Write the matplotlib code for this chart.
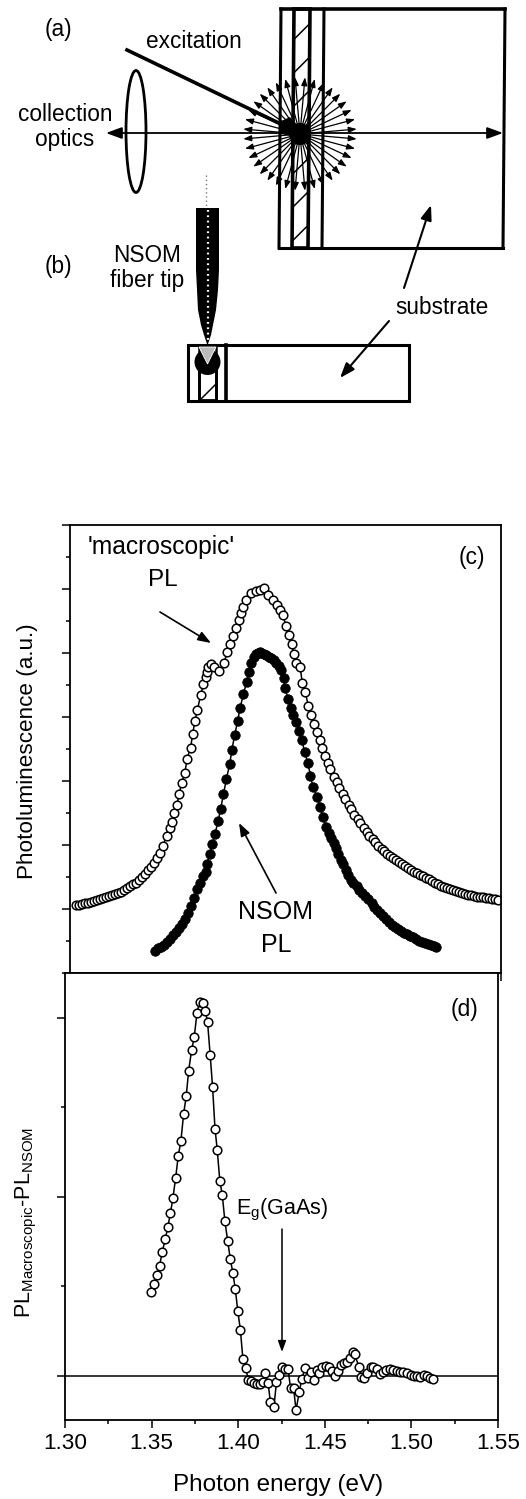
import matplotlib
matplotlib.use("Agg")
import matplotlib.pyplot as plt
import numpy as np
from matplotlib.patches import Ellipse, Polygon, Circle
from matplotlib.ticker import MultipleLocator, NullFormatter

plt.rcParams["font.family"] = ["Liberation Sans", "DejaVu Sans"]
plt.rcParams["mathtext.default"] = "regular"
plt.rcParams["hatch.linewidth"] = 1.1

W, H = 526, 1499

# panel (c), macroscopic PL
macro_x = [1.3035, 1.3052, 1.3069, 1.3087, 1.3104, 1.3122, 1.3139, 1.3156, 1.3174, 1.3191, 1.3208, 1.3226,
           1.3243, 1.3260, 1.3278, 1.3295, 1.3313, 1.3330, 1.3347, 1.3365, 1.3382, 1.3399, 1.3417, 1.3434,
           1.3451, 1.3469, 1.3486, 1.3504, 1.3521, 1.3538, 1.3560, 1.3579, 1.3591, 1.3606, 1.3620, 1.3633,
           1.3648, 1.3666, 1.3679, 1.3699, 1.3712, 1.3724, 1.3739, 1.3758, 1.3774, 1.3786, 1.3793, 1.3803,
           1.3816, 1.3835, 1.3864, 1.3893, 1.3913, 1.3928, 1.3945, 1.3961, 1.3979, 1.3992, 1.4003, 1.4023,
           1.4050, 1.4081, 1.4100, 1.4123, 1.4148, 1.4177, 1.4200, 1.4216, 1.4235, 1.4252, 1.4268, 1.4285,
           1.4299, 1.4312, 1.4335, 1.4347, 1.4365, 1.4382, 1.4397, 1.4413, 1.4430, 1.4448, 1.4463, 1.4478,
           1.4496, 1.4511, 1.4530, 1.4548, 1.4563, 1.4582, 1.4598, 1.4617, 1.4631, 1.4650, 1.4668, 1.4685,
           1.4703, 1.4720, 1.4737, 1.4755, 1.4772, 1.4789, 1.4807, 1.4824, 1.4841, 1.4859, 1.4876, 1.4893,
           1.4911, 1.4928, 1.4946, 1.4963, 1.4980, 1.4998, 1.5015, 1.5032, 1.5050, 1.5067, 1.5084, 1.5102,
           1.5119, 1.5137, 1.5154, 1.5171, 1.5189, 1.5206, 1.5223, 1.5241, 1.5258, 1.5275, 1.5293, 1.5310,
           1.5328, 1.5345, 1.5362, 1.5380, 1.5397, 1.5414, 1.5432, 1.5449, 1.5467, 1.5484]
macro_y = [.0625, .069, .078, .086, .094, .109, .125, .141, .156, .172, .188, .203,
           .219, .234, .25, .273, .297, .328, .359, .383, .406, .453, .5, .547,
           .609, .656, .719, .797, .875, .984, 1.145, 1.266, 1.364, 1.5, 1.625, 1.797,
           1.973, 2.125, 2.344, 2.516, 2.734, 2.937, 3.109, 3.344, 3.516, 3.63, 3.708, 3.781,
           3.828, 3.781, 3.723, 3.844, 4.02, 4.141, 4.266, 4.391, 4.516, 4.625, 4.723, 4.828,
           4.938, 4.969, 4.984, 5.016, 4.906, 4.828, 4.75, 4.672, 4.6, 4.427, 4.281, 4.141,
           3.992, 3.844, 3.781, 3.536, 3.391, 3.172, 3.031, 2.891, 2.766, 2.633, 2.516, 2.398,
           2.286, 2.188, 2.067, 1.984, 1.891, 1.797, 1.719, 1.625, 1.5625, 1.469, 1.40, 1.336,
           1.266, 1.203, 1.148, 1.094, 1.04, .992, .945, .906, .867, .828, .797, .766,
           .734, .703, .672, .641, .609, .583, .558, .531, .508, .484, .461, .4375,
           .414, .391, .367, .348, .328, .3125, .297, .281, .266, .25, .2375, .225,
           .214, .203, .194, .1875, .181, .175, .169, .1625, .156, .141]

# panel (c), NSOM PL
nsom_x = [1.3492, 1.3510, 1.3527, 1.3544, 1.3562, 1.3579, 1.3596, 1.3614, 1.3631, 1.3649, 1.3666, 1.3683,
          1.3701, 1.3718, 1.3735, 1.3753, 1.3770, 1.3786, 1.3795, 1.3811, 1.3826, 1.3841, 1.3859, 1.3874,
          1.3890, 1.3907, 1.3926, 1.3939, 1.3955, 1.3972, 1.3986, 1.4006, 1.4025, 1.4040, 1.4052, 1.4067,
          1.4077, 1.4090, 1.4100, 1.4110, 1.4123, 1.4139, 1.4152, 1.4168, 1.4181, 1.4197, 1.4210, 1.4222,
          1.4239, 1.4247, 1.4266, 1.4280, 1.4293, 1.4309, 1.4328, 1.4345, 1.4361, 1.4380, 1.4395, 1.4409,
          1.4432, 1.4452, 1.4467, 1.4486, 1.4500, 1.4515, 1.4529, 1.4544, 1.4557, 1.4573, 1.4586, 1.4602,
          1.4615, 1.4631, 1.4644, 1.4662, 1.4679, 1.4696, 1.4714, 1.4731, 1.4749, 1.4766, 1.4783, 1.4801,
          1.4818, 1.4835, 1.4853, 1.4870, 1.4888, 1.4905, 1.4922, 1.4940, 1.4957, 1.4974, 1.4992, 1.5009,
          1.5027, 1.5044, 1.5061, 1.5079, 1.5096, 1.5113, 1.5125]
nsom_y = [-.652, -.617, -.586, -.555, -.508, -.461, -.414, -.359, -.297, -.234, -.156, -.0625,
          .047, .172, .305, .406, .508, .583, .703, .859, 1.011, 1.172, 1.37, 1.567,
          1.792, 2.027, 2.261, 2.484, 2.719, 2.93, 3.136, 3.359, 3.552, 3.708, 3.844, 3.942,
          3.984, 4.005, 4.016, 4.005, 3.992, 3.969, 3.945, 3.917, 3.891, 3.848, 3.797, 3.734,
          3.605, 3.448, 3.281, 3.136, 3.031, 2.922, 2.786, 2.633, 2.458, 2.277, 2.078, 1.911,
          1.755, 1.598, 1.442, 1.286, 1.195, 1.105, 1.031, .948, .867, .766, .703, .609,
          .531, .453, .406, .359, .297, .25, .203, .156, .094, .039, -.016, -.0625,
          -.109, -.156, -.203, -.25, -.281, -.3125, -.344, -.375, -.398, -.422, -.445, -.469,
          -.5, -.516, -.531, -.547, -.5625, -.578, -.589]

# panel (d), difference
diff_x = [1.3496, 1.3514, 1.3531, 1.3546, 1.3561, 1.3579, 1.3594, 1.3609, 1.3623, 1.3639, 1.3654, 1.3669,
          1.3685, 1.3700, 1.3714, 1.3731, 1.3746, 1.3762, 1.3777, 1.3795, 1.3810, 1.3823, 1.3838, 1.3852,
          1.3866, 1.3879, 1.3894, 1.3908, 1.3923, 1.3939, 1.3954, 1.3969, 1.3983, 1.3998, 1.4013, 1.4027,
          1.4043, 1.4058, 1.4073, 1.4091, 1.4106, 1.4125, 1.4141, 1.4156, 1.4173, 1.4186, 1.4206, 1.4221,
          1.4236, 1.4254, 1.4271, 1.4288, 1.4302, 1.4320, 1.4334, 1.4352, 1.4367, 1.4387, 1.4402, 1.4419,
          1.4437, 1.4454, 1.4467, 1.4485, 1.4506, 1.4525, 1.4541, 1.4558, 1.4575, 1.4591, 1.4612, 1.4631,
          1.4644, 1.4660, 1.4673, 1.4696, 1.4711, 1.4727, 1.4743, 1.4764, 1.4779, 1.4799, 1.4819, 1.4837,
          1.4856, 1.4875, 1.4894, 1.4914, 1.4933, 1.4952, 1.4975, 1.4995, 1.5014, 1.5033, 1.5052, 1.5071,
          1.5090, 1.5106, 1.5127]
diff_y = [.471, .512, .566, .616, .691, .764, .834, .911, .994, 1.108, 1.231, 1.311,
          1.465, 1.564, 1.706, 1.82, 1.892, 2.028, 2.089, 2.082, 2.041, 1.978, 1.795, 1.615,
          1.382, 1.263, 1.088, 1.013, .866, .756, .655, .577, .486, .361, .254, .095,
          .047, -.022, -.028, -.042, -.046, -.045, -.032, .018, -.042, -.147, -.173, -.035,
          .006, .052, .037, .041, -.069, -.069, -.192, -.091, -.018, .046, -.009, .024,
          -.022, .034, .015, .049, .058, .049, .026, 0, .03, .061, .071, .077,
          .099, .132, .123, .052, -.004, -.013, .015, .049, .052, .037, .011, .024,
          .034, .039, .034, .03, .024, .024, .015, .006, 0, 0, -.004, .006,
          .002, -.009, -.017]

x_ticks = [1.30, 1.35, 1.40, 1.45, 1.50, 1.55]
x_labels = ["1.30", "1.35", "1.40", "1.45", "1.50", "1.55"]

# schematic, rays of the emission fan (degrees)
fan_angles = list(range(5, 360, 10))


def axes_px(fig, left, right, top, bottom):
    return fig.add_axes([left / W, 1 - bottom / H, (right - left) / W, (bottom - top) / H])


def style_axes(ax):
    for s in ax.spines.values():
        s.set_linewidth(1.3)
    ax.set_xlim(1.30, 1.55)
    ax.set_xticks(x_ticks)
    ax.xaxis.set_minor_locator(MultipleLocator(0.025))
    ax.yaxis.set_major_locator(MultipleLocator(1))
    ax.yaxis.set_minor_locator(MultipleLocator(0.5))
    ax.yaxis.set_major_formatter(NullFormatter())
    ax.tick_params(which="major", direction="out", length=5.5, width=1.1)
    ax.tick_params(which="minor", direction="out", length=3, width=1.1)


fig = plt.figure(figsize=(W / 100, H / 100), dpi=100)

# (c)
axc = axes_px(fig, 70, 501, 525, 973)
style_axes(axc)
axc.set_ylim(-1, 6)
axc.set_xticklabels([])
axc.plot(macro_x, macro_y, "-", color="k", lw=1.1, marker="o", ms=6.2, mfc="white", mec="k", mew=1.1)
axc.plot(nsom_x, nsom_y, "-", color="k", lw=1.1, marker="o", ms=6.8, mfc="k", mec="k", mew=0.6)

# (d)
axd = axes_px(fig, 65, 498, 973, 1420)
style_axes(axd)
axd.set_ylim(-0.246, 2.251)
axd.set_xticklabels(x_labels, fontsize=16.2)
axd.tick_params(axis="x", which="major", pad=4)
axd.axhline(0, color="k", lw=1.1)
axd.plot(diff_x, diff_y, "-", color="k", lw=1.1, marker="o", ms=6.2, mfc="white", mec="k", mew=1.1)

# overlay in picture pixels for the schematic and the annotations
ov = fig.add_axes([0, 0, 1, 1])
ov.set_xlim(0, W)
ov.set_ylim(H, 0)
ov.axis("off")


def label(x, y, s, size=16.3, **kw):
    ov.text(x, y, s, fontsize=size, ha="center", va="center", **kw)


def arrow(x0, y0, x1, y1, lw=1.2, scale=13):
    ov.annotate("", xy=(x1, y1), xytext=(x0, y0),
                arrowprops=dict(arrowstyle="-|>,head_length=0.6,head_width=0.22", lw=lw, color="k",
                                shrinkA=0, shrinkB=0, mutation_scale=scale))


def vline(x0, y0, x1, y1, lw=2):
    ov.plot([x0, x1], [y0, y1], color="k", lw=lw, solid_capstyle="projecting")


# panel texts
label(161, 547, "'macroscopic'", 17.7)
label(163, 580, "PL", 17.5)
arrow(160, 612, 211, 643)
label(276, 912, "NSOM", 18)
label(276, 945, "PL", 18)
arrow(276, 893, 239, 823)
label(472, 557, "(c)", 16.5)
label(465, 1009, "(d)", 16.5)
label(282, 1210, r"E$_{g}$(GaAs)", 15.5)
arrow(282, 1229, 282, 1352, lw=1.1, scale=11)
label(28, 751, "Photoluminescence (a.u.)", 16.2, rotation=90)
label(26, 1222, r"PL$_{Macroscopic}$-PL$_{NSOM}$", 15.5, rotation=90)
label(278, 1485, "Photon energy (eV)", 17.5)

# schematic (a): layers
ov.add_patch(Polygon([[294, 9], [310, 9], [308, 248], [292, 248]], closed=True, fc="white", ec="k", lw=2.6, hatch="/"))
vline(281, 9, 279, 248, lw=2.2)
vline(324, 9, 322, 248, lw=2.2)
vline(281, 9, 505, 9, lw=2.6)
vline(279, 248, 503, 248, lw=2.2)
vline(505, 9, 503, 248, lw=2.2)

# lens and axis
ov.add_patch(Ellipse((136, 131.5), 20, 122, fc="none", ec="k", lw=2))
arrow(300, 133, 106, 133, lw=1.3, scale=16)
arrow(300, 133, 503, 133, lw=1.3, scale=16)

# emission fan
for a in fan_angles:
    r = 57
    arrow(300, 134, 300 + r * np.cos(np.radians(a)), 134 - r * np.sin(np.radians(a)), lw=0.9, scale=8)
ov.add_patch(Circle((300, 134), 11, fc="k", ec="none", zorder=3))
ov.add_patch(Polygon([[279, 122], [290, 117], [300, 130], [292, 136], [280, 134]], closed=True, fc="k", ec="none", zorder=3))

# excitation beam
vline(127, 50, 285, 126, lw=2.6)

# texts of the schematic
label(58, 29, "(a)")
label(194, 41, "excitation")
label(65, 114, "collection")
label(65, 139, "optics")
label(58, 266, "(b)")
label(147, 255, "NSOM")
label(147, 280, "fiber tip")
label(442, 307, "substrate")
arrow(404, 288, 431, 205, lw=1.5, scale=15)
arrow(389, 321, 340, 378, lw=1.5, scale=15)

# schematic (b): sample edge
ov.add_patch(Polygon([[199, 366], [216, 366], [216, 400], [199, 400]], closed=True, fc="white", ec="k", lw=2, hatch="/"))
ov.add_patch(Polygon([[188, 345], [409, 345], [409, 401], [188, 401]], closed=True, fc="none", ec="k", lw=2.2))
vline(199, 345, 199, 401, lw=1.8)
vline(216, 345, 216, 401, lw=1.8)
vline(226, 345, 226, 401, lw=2.6)
ov.add_patch(Circle((207.5, 362), 13, fc="k", ec="none", zorder=3))
ov.add_patch(Polygon([[199, 347], [216, 347], [207.5, 364]], closed=True, fc="#bbbbbb", ec="white", lw=0.6, zorder=4))

# fibre tip
ov.add_patch(Polygon([[196, 208], [219, 208], [219, 270], [218, 290], [216, 310], [213, 325], [211, 335], [208, 344],
                      [207, 344], [204, 335], [201, 325], [198, 310], [197, 290], [196, 270]],
                     closed=True, fc="k", ec="none", zorder=4))
ov.plot([207.5, 207.5], [210, 342], color="white", lw=1.6, ls=(0, (0.8, 1.6)), zorder=5)
ov.plot([206, 206], [175, 208], color="#777777", lw=1, ls=(0, (1, 2)), zorder=5)

fig.savefig("out.png", dpi=100)
